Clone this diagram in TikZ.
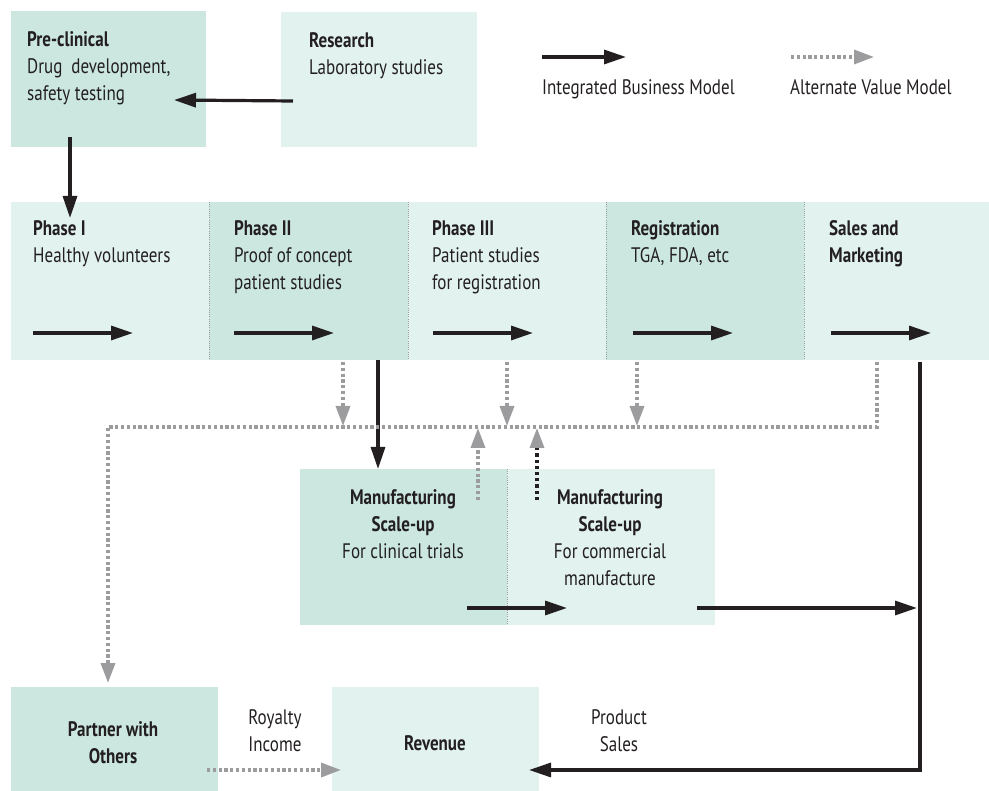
\documentclass[tikz,border=0pt]{standalone}
\usepackage{fontspec}
\setmainfont{PT Sans}[FakeStretch=0.81]
\usetikzlibrary{arrows.meta,calc}
\definecolor{dk}{HTML}{CBE7E0}
\definecolor{lt}{HTML}{E1F2EF}
\definecolor{ink}{HTML}{231F20}
\definecolor{gry}{HTML}{9C9C9E}
\tikzset{
  box/.style={anchor=north west, inner sep=0, outer sep=0, draw=none},
  blk/.style={draw=ink, line width=3.2pt, -{Triangle[length=22pt,width=14pt]}},
  avm/.style={draw=gry, line width=3.4pt, dash pattern=on 3.2pt off 2.6pt, -{Triangle[length=20pt,width=14pt,fill=gry,color=gry]}},
  avmdark/.style={draw=ink, line width=3.4pt, dash pattern=on 3.2pt off 3pt, -{Triangle[length=20pt,width=14pt,fill=gry,color=gry]}},
  sepline/.style={draw=gry, line width=0.8pt, dash pattern=on 1pt off 1.2pt},
  txt/.style={anchor=north west, inner sep=0, align=left, font=\fontsize{21}{26.8}\selectfont, text=ink},
  ctxt/.style={anchor=north, inner sep=0, align=center, font=\fontsize{21}{26.8}\selectfont, text=ink},
}
\begin{document}
\begin{tikzpicture}[x=1pt,y=-1pt]
\useasboundingbox (0,0) rectangle (989,791);
% boxes
\node[box, fill=dk, minimum width=195pt, minimum height=136pt] (pre) at (11,11) {};
\node[box, fill=lt, minimum width=196pt, minimum height=135pt] (res) at (281,12) {};
\node[box, fill=lt, minimum width=198pt, minimum height=158pt] (p1) at (11,202) {};
\node[box, fill=dk, minimum width=199pt, minimum height=158pt] (p2) at (209,202) {};
\node[box, fill=lt, minimum width=198pt, minimum height=158pt] (p3) at (408,202) {};
\node[box, fill=dk, minimum width=198pt, minimum height=158pt] (reg) at (606,202) {};
\node[box, fill=lt, minimum width=185pt, minimum height=158pt] (sal) at (804,202) {};
\node[box, fill=dk, minimum width=207pt, minimum height=156pt] (m1) at (300,469) {};
\node[box, fill=lt, minimum width=208pt, minimum height=156pt] (m2) at (507,469) {};
\node[box, fill=dk, minimum width=207pt, minimum height=104pt] (par) at (11,687) {};
\node[box, fill=lt, minimum width=207pt, minimum height=104pt] (rev) at (332,687) {};
% separators
\foreach \n in {p2,p3,reg,sal} \draw[sepline] (\n.north west) -- (\n.south west);
\draw[sepline] (m2.north west) -- (m2.south west);
% texts
\node[txt] (tpre) at (27,31.5) {\textbf{Pre-clinical}\\Drug\ \ development,\\safety testing};
\node[txt] (tres) at (309,32.5) {\textbf{Research}\\Laboratory studies};
\node[txt] (tp1) at (33,220.5) {\textbf{Phase I}\\Healthy volunteers};
\node[txt] (tp2) at (234,220.5) {\textbf{Phase II}\\Proof of concept\\patient studies};
\node[txt] (tp3) at (432,220.5) {\textbf{Phase III}\\Patient studies\\for registration};
\node[txt] (treg) at (631,220.5) {\textbf{Registration}\\TGA, FDA, etc};
\node[txt] (tsal) at (829,220.5) {\textbf{Sales and}\\\textbf{Marketing}};
\node[ctxt] (tm1) at (403,489.5) {\textbf{Manufacturing}\\\textbf{Scale-up}\\For clinical trials};
\node[ctxt] (tm2) at (610,489.5) {\textbf{Manufacturing}\\\textbf{Scale-up}\\For commercial\\manufacture};
\node[ctxt] (tpar) at (113,721.5) {\textbf{Partner with}\\\textbf{Others}};
\node[ctxt] (trev) at (435,735.5) {\textbf{Revenue}};
\node[ctxt] (troy) at (275,709.5) {Royalty\\Income};
\node[ctxt] (tps) at (619,709.5) {Product\\Sales};
\node[txt] (tl1) at (542,79.5) {Integrated Business Model};
\node[txt] (tl2) at (790,79.5) {Alternate Value Model};
% legend arrows
\coordinate (l1a) at (542,57); \coordinate (l1b) at (626,57);
\coordinate (l2a) at (791,57); \coordinate (l2b) at (874,57);
\draw[blk] (l1a) -- (l1b);
\draw[avm] (l2a) -- (l2b);
% flow arrows
\draw[blk] ($(res.north west)+(12,89)$) -- ($(pre.north east)+(-32,89)$);
\draw[blk] ($(pre.south west)+(59,-10)$) -- ($(p1.north west)+(59,16)$);
\draw[blk] ($(p1.north west)+(22,131)$) -- ($(p1.north west)+(122,131)$);
\draw[blk] ($(p2.north west)+(25,131)$) -- ($(p2.north west)+(125,131)$);
\draw[blk] ($(p3.north west)+(25,131)$) -- ($(p3.north west)+(125,131)$);
\draw[blk] ($(reg.north west)+(27,131)$) -- ($(reg.north west)+(127,131)$);
\draw[blk] ($(sal.north west)+(27,131)$) -- ($(sal.north west)+(127,131)$);
\draw[avm] ($(p2.south west)+(134,2)$) -- ($(p2.south west)+(134,66)$);
\draw[avm] ($(p3.south west)+(99,2)$) -- ($(p3.south west)+(99,66)$);
\draw[avm] ($(reg.south west)+(31,2)$) -- ($(reg.south west)+(31,66)$);
\draw[blk] ($(p2.south west)+(169,0)$) -- ($(m1.north west)+(78,0)$);
\draw[avm] ($(sal.south west)+(73,2)$) -- ($(sal.south west)+(73,67)$) -- ($(par.north west)+(97,-260)$) -- ($(par.north west)+(97,-4)$);
\draw[avm] ($(m1.north west)+(178,31)$) -- ($(m1.north west)+(178,-41)$);
\draw[avmdark] ($(m2.north west)+(30,31)$) -- ($(m2.north west)+(30,-41)$);
\draw[blk] ($(m1.north west)+(167,139)$) -- ($(m2.north west)+(60,139)$);
\draw[blk] ($(m2.north west)+(190,139)$) -- ($(m2.north west)+(410,139)$);
\draw[blk] ($(sal.south west)+(116,2)$) -- ($(rev.south east)+(381,-21)$) -- ($(rev.south east)+(-10,-21)$);
\draw[avm] ($(par.south east)+(-11,-21)$) -- ($(rev.south west)+(9,-21)$);
\end{tikzpicture}
\end{document}
